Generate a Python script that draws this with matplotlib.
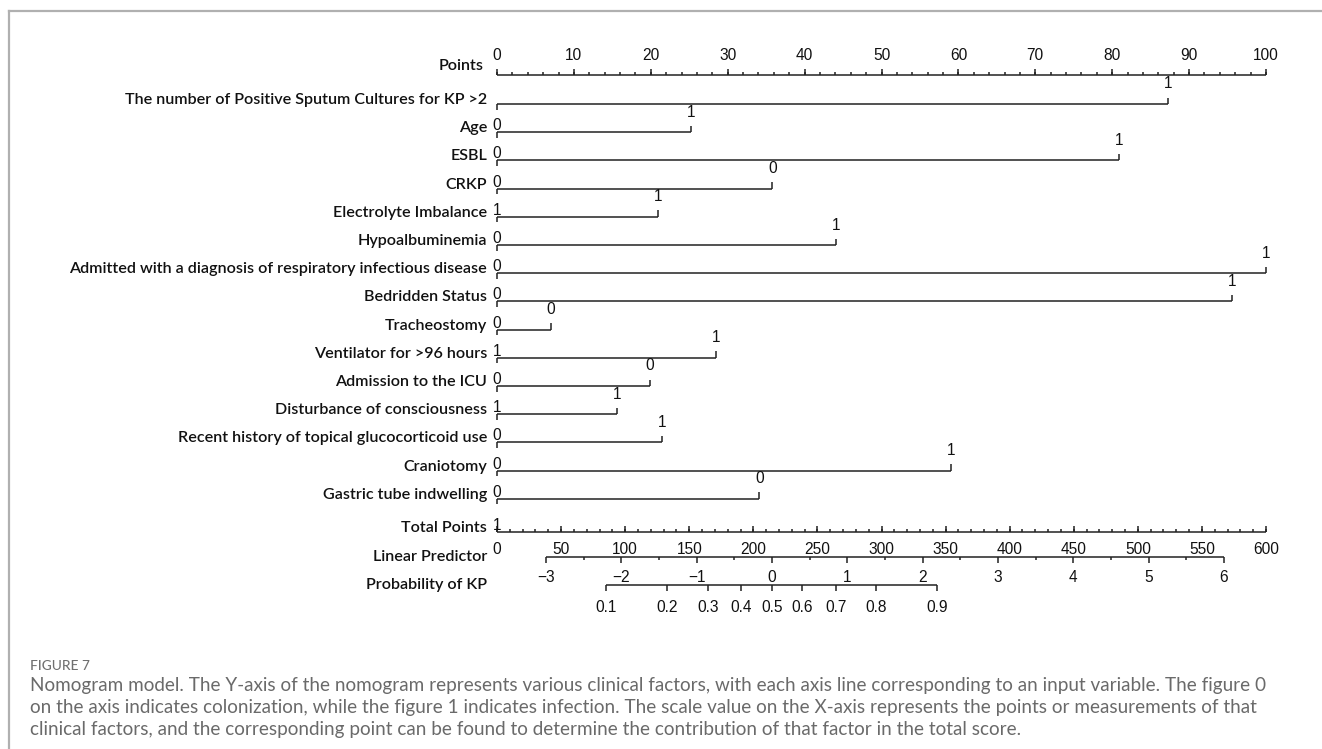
import numpy as np
import matplotlib
matplotlib.use("Agg")
import matplotlib.pyplot as plt

# ---------------- data ----------------
factor_names = [
    "The number of Positive Sputum Cultures for KP >2",
    "Age",
    "ESBL",
    "CRKP",
    "Electrolyte Imbalance",
    "Hypoalbuminemia",
    "Admitted with a diagnosis of respiratory infectious disease",
    "Bedridden Status",
    "Tracheostomy",
    "Ventilator for >96 hours",
    "Admission to the ICU",
    "Disturbance of consciousness",
    "Recent history of topical glucocorticoid use",
    "Craniotomy",
    "Gastric tube indwelling",
]
factor_points = [87.3, 25.2, 80.9, 35.8, 20.9, 44.1, 100.0, 95.6, 7.0, 28.5, 19.9, 15.6, 21.5, 59.0, 34.1]
left_labels = ["", "0", "0", "0", "1", "0", "0", "0", "0", "1", "0", "1", "0", "0", "0"]
right_labels = ["1", "1", "1", "0", "1", "1", "1", "1", "0", "1", "0", "1", "1", "1", "0"]

points_major = list(range(0, 101, 10))
points_minor = list(range(0, 101, 2))
total_major = list(range(0, 601, 50))
total_minor = list(range(0, 601, 10))
lp_major = [-3, -2, -1, 0, 1, 2, 3, 4, 5, 6]
lp_minor = [-2.5, -1.5, -0.5, 0.5, 1.5, 2.5, 3.5, 4.5, 5.5]
prob_ticks = [0.1, 0.2, 0.3, 0.4, 0.5, 0.6, 0.7, 0.8, 0.9]
# total points = lp_intercept + lp_slope * linear predictor
lp_intercept = 214.5
lp_slope = 58.78
max_total = 600

caption_title = "FIGURE 7"
caption_lines = [
    "Nomogram model. The Y-axis of the nomogram represents various clinical factors, with each axis line corresponding to an input variable. The figure 0",
    "on the axis indicates colonization, while the figure 1 indicates infection. The scale value on the X-axis represents the points or measurements of that",
    "clinical factors, and the corresponding point can be found to determine the contribution of that factor in the total score.",
]

# ---------------- layout ----------------
W, H = 1322, 749
X0, X100 = 497, 1266
fig = plt.figure(figsize=(W / 100, H / 100), dpi=100)
ax = fig.add_axes([0, 0, 1, 1])
ppx = (X100 - X0) / 100.0
ax.set_xlim(-X0 / ppx, (W - X0) / ppx)
ax.set_ylim(H, 0)
ax.axis("off")

INK = "#222222"
LW = 1.1
LABEL_FONT = dict(family=["Lato", "DejaVu Sans"], weight="semibold", size=11.65, color="#111111")
NUM_FONT = dict(family=["Liberation Sans Narrow", "Liberation Sans", "DejaVu Sans"], size=11.2, color="#111111")
lab_x = (487 - X0) / ppx


def tp2x(tp):
    return np.asarray(tp, dtype=float) * 100.0 / max_total


def lp2x(lp):
    return tp2x(lp_intercept + lp_slope * np.asarray(lp, dtype=float))


# Points axis
y_pts = 75
ax.hlines(y_pts, 0, 100, color=INK, lw=LW)
ax.vlines(points_minor, y_pts, y_pts - 3.5, color=INK, lw=LW)
ax.vlines(points_major, y_pts, y_pts - 6.5, color=INK, lw=LW)
for v in points_major:
    ax.text(v, 55.5, str(v), ha="center", va="center", **NUM_FONT)
ax.text(lab_x - 0.5, 70, "Points", ha="right", va="baseline", **LABEL_FONT)

# Factor rows
row_y0, row_dy = 104, 28.2
for i, (name, pts, ll, rl) in enumerate(zip(factor_names, factor_points, left_labels, right_labels)):
    y = row_y0 + i * row_dy
    ax.hlines(y, 0, pts, color=INK, lw=LW)
    ax.vlines(0, y, y + 5.5, color=INK, lw=LW)
    ax.vlines(pts, y, y - 6.5, color=INK, lw=LW)
    ax.text(lab_x, y, name, ha="right", va="baseline", **LABEL_FONT)
    if ll:
        ax.text(0, y - 6.5, ll, ha="center", va="center", **NUM_FONT)
    ax.text(pts, y - 20, rl, ha="center", va="center", **NUM_FONT)

# Total points
y_tot = 532
ax.hlines(y_tot, 0, tp2x(max_total), color=INK, lw=LW)
ax.vlines(tp2x(total_minor), y_tot, y_tot - 3.5, color=INK, lw=LW)
ax.vlines(tp2x(total_major), y_tot, y_tot - 6.5, color=INK, lw=LW)
ax.text(lab_x, y_tot, "Total Points", ha="right", va="baseline", **LABEL_FONT)
ax.text(0, y_tot - 6.5, "1", ha="center", va="center", **NUM_FONT)
for v in total_major:
    ax.text(tp2x(v), 550, str(v), ha="center", va="center", **NUM_FONT)

# Linear predictor
y_lp = 557
ax.hlines(y_lp, lp2x(lp_major[0]), lp2x(lp_major[-1]), color=INK, lw=LW)
ax.vlines(lp2x(lp_major), y_lp, y_lp + 5.5, color=INK, lw=LW)
ax.vlines(lp2x(lp_minor), y_lp, y_lp + 2.8, color=INK, lw=LW)
ax.text(lab_x, y_lp + 4, "Linear Predictor", ha="right", va="baseline", **LABEL_FONT)
for v in lp_major:
    ax.text(lp2x(v), 578, "\u2212" + str(-v) if v < 0 else str(v), ha="center", va="center", **NUM_FONT)

# Probability
y_pr = 585
logits = np.log(np.array(prob_ticks) / (1 - np.array(prob_ticks)))
ax.hlines(y_pr, lp2x(logits[0]), lp2x(logits[-1]), color=INK, lw=LW)
ax.vlines(lp2x(logits), y_pr, y_pr + 5.5, color=INK, lw=LW)
ax.text(lab_x, y_pr + 4, "Probability of KP", ha="right", va="baseline", **LABEL_FONT)
for p, lg in zip(prob_ticks, logits):
    ax.text(lp2x(lg), 607, f"{p:.1f}", ha="center", va="center", **NUM_FONT)

# Frame (top and left only)
fig.add_artist(plt.Line2D([9 / W, 1], [1 - 11 / H, 1 - 11 / H], color="#b0b0b0", lw=1.6))
fig.add_artist(plt.Line2D([9 / W, 9 / W], [0, 1 - 11 / H], color="#b0b0b0", lw=1.6))

# Caption
cap_x = 30 / W
fig.text(cap_x, 1 - 666 / H, caption_title, ha="left", va="center",
         family=["Lato", "DejaVu Sans"], size=9.8, color="#707070", weight="medium")
for k, line in enumerate(caption_lines):
    fig.text(cap_x, 1 - (685 + k * 22) / H, line, ha="left", va="center",
             family=["Lato", "DejaVu Sans"], size=13.6, color="#6a6a6a", weight="normal")

fig.savefig("out.png", dpi=100)
